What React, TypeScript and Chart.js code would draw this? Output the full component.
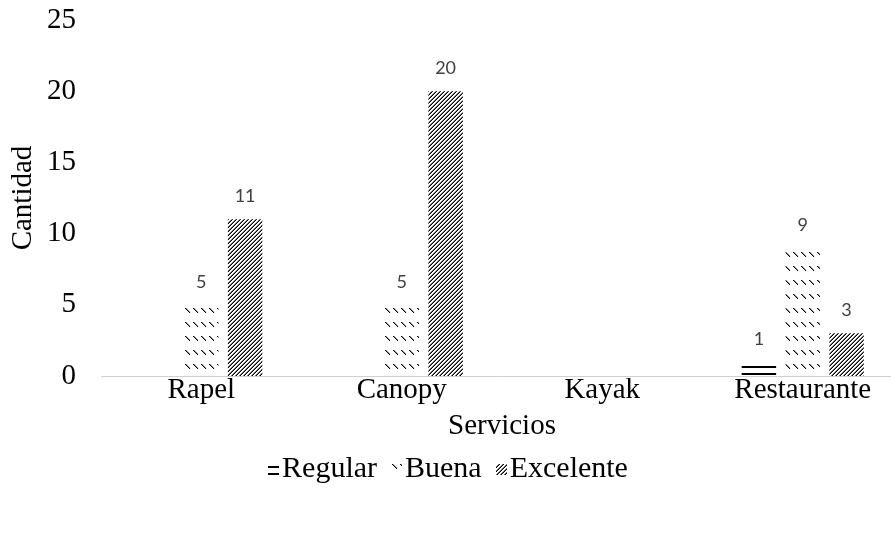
import React, { useEffect, useRef } from "react";
import { Chart, registerables } from "chart.js";

Chart.register(...registerables);

const categories = ["Rapel", "Canopy", "Kayak", "Restaurante"];
const seriesNames = ["Regular", "Buena", "Excelente"];
const regular: (number | null)[] = [null, null, null, 1];
const buena: (number | null)[] = [5, 5, null, 9];
const excelente: (number | null)[] = [11, 20, null, 3];
const yTicks = [0, 5, 10, 15, 20, 25];

const SERIF = "'Liberation Serif', 'Times New Roman', serif";
const FS = 29;
const CANVAS_W = 905;

function makePattern(kind: string): CanvasPattern | string {
  const c = document.createElement("canvas");
  const ctx = c.getContext("2d")!;
  if (kind === "regular") {
    c.width = 8; c.height = 7;
    ctx.fillStyle = "#fff"; ctx.fillRect(0, 0, 8, 7);
    ctx.fillStyle = "#000"; ctx.fillRect(0, 2, 8, 2);
  } else if (kind === "buena") {
    c.width = 8; c.height = 14;
    ctx.fillStyle = "#fff"; ctx.fillRect(0, 0, 8, 14);
    ctx.fillStyle = "#000";
    ctx.fillRect(1, 0, 1, 1);
    ctx.fillRect(2, 1, 1, 1);
    ctx.fillRect(3, 2, 1, 1);
    ctx.fillRect(4, 3, 1, 1);
    ctx.fillRect(5, 4, 1, 1);
    ctx.fillStyle = "rgba(0,0,0,0.45)";
    ctx.fillRect(2, 0, 1, 1);
    ctx.fillRect(3, 1, 1, 1);
    ctx.fillRect(4, 2, 1, 1);
    ctx.fillRect(5, 3, 1, 1);
  } else {
    c.width = 4; c.height = 4;
    ctx.fillStyle = "#fff"; ctx.fillRect(0, 0, 4, 4);
    ctx.fillStyle = "#000";
    ctx.fillRect(3, 0, 1, 1);
    ctx.fillRect(2, 1, 1, 1);
    ctx.fillRect(1, 2, 1, 1);
    ctx.fillRect(0, 3, 1, 1);
    ctx.fillStyle = "rgba(0,0,0,0.55)";
    ctx.fillRect(2, 0, 1, 1);
    ctx.fillRect(1, 1, 1, 1);
    ctx.fillRect(0, 2, 1, 1);
    ctx.fillRect(3, 3, 1, 1);
  }
  return ctx.createPattern(c, "repeat") || "#000";
}

const labelPlugin = {
  id: "valueLabels",
  afterDatasetsDraw(chart: any) {
    const ctx = chart.ctx;
    ctx.save();
    ctx.font = "18px Lato, 'Open Sans', sans-serif";
    ctx.fillStyle = "#404040";
    ctx.textAlign = "center";
    ctx.textBaseline = "middle";
    chart.data.datasets.forEach((ds: any, i: number) => {
      const meta = chart.getDatasetMeta(i);
      meta.data.forEach((el: any, j: number) => {
        const v = ds.data[j];
        if (v === null || v === undefined) return;
        ctx.fillText(String(v), el.x, el.y - 23);
      });
    });
    ctx.restore();
  },
};

const legendPlugin = {
  id: "customLegend",
  afterDraw(chart: any) {
    const ctx = chart.ctx;
    ctx.save();
    ctx.font = `30px ${SERIF}`;
    ctx.textBaseline = "middle";
    ctx.textAlign = "left";
    const box = 11, gap = 3, sep = 14;
    const ds = chart.data.datasets;
    const widths = ds.map((d: any) => box + gap + ctx.measureText(d.label).width);
    const total = widths.reduce((a: number, b: number) => a + b, 0) + sep * (ds.length - 1);
    let x = 448 - total / 2;
    const y = 469;
    ds.forEach((d: any, i: number) => {
      ctx.save();
      ctx.translate(Math.round(x), y - 5);
      ctx.fillStyle = d.backgroundColor;
      ctx.fillRect(0, 0, box, 11);
      ctx.restore();
      ctx.fillStyle = "#000";
      ctx.fillText(d.label, x + box + gap, y);
      x += widths[i] + sep;
    });
    ctx.restore();
  },
};

export default function App() {
  const ref = useRef<HTMLCanvasElement>(null);
  useEffect(() => {
    document.body.style.margin = "0";
    const pats = [makePattern("regular"), makePattern("buena"), makePattern("excelente")];
    const data = [regular, buena, excelente];
    const chart = new Chart(ref.current!, {
      type: "bar",
      data: {
        labels: categories,
        datasets: seriesNames.map((n, i) => ({
          label: n,
          data: data[i],
          backgroundColor: pats[i] as any,
          borderWidth: 0,
          categoryPercentage: 0.656,
          barPercentage: 0.785,
        })),
      },
      options: {
        animation: false,
        responsive: false,
        maintainAspectRatio: false,
        layout: { padding: { top: 20, right: 2, bottom: 0, left: 6 } },
        plugins: {
          tooltip: { enabled: false },
          legend: { display: false },
        },
        scales: {
          x: {
            afterFit: (s: any) => { s.height = 166; },
            grid: { display: false, drawTicks: false },
            border: { color: "#d0d0d0", width: 1 },
            ticks: { font: { family: SERIF, size: FS, lineHeight: 1.2 }, color: "#000", padding: -3 },
            title: {
              display: true,
              text: "Servicios",
              font: { family: SERIF, size: FS, lineHeight: 1.2 },
              color: "#000",
              padding: { top: 0, bottom: 98 },
            },
          },
          y: {
            min: 0,
            max: 25,
            afterFit: (s: any) => { s.width = 95; },
            afterBuildTicks: (ax: any) => { ax.ticks = yTicks.map((v) => ({ value: v })); },
            grid: { display: false, drawTicks: true, tickLength: 25 },
            border: { display: false },
            ticks: { font: { family: SERIF, size: FS, lineHeight: 1.2 }, color: "#000", padding: 0 },
            title: {
              display: true,
              text: "Cantidad",
              font: { family: SERIF, size: FS, lineHeight: 1.2 },
              color: "#000",
              padding: { top: 0, bottom: 0 },
            },
          },
        },
      },
      plugins: [labelPlugin, legendPlugin],
    });
    return () => chart.destroy();
  }, []);
  return (
    <div style={{ width: 891, height: 542, overflow: "hidden" }}>
      <canvas ref={ref} width={CANVAS_W} height={542} style={{ display: "block" }} />
    </div>
  );
}
